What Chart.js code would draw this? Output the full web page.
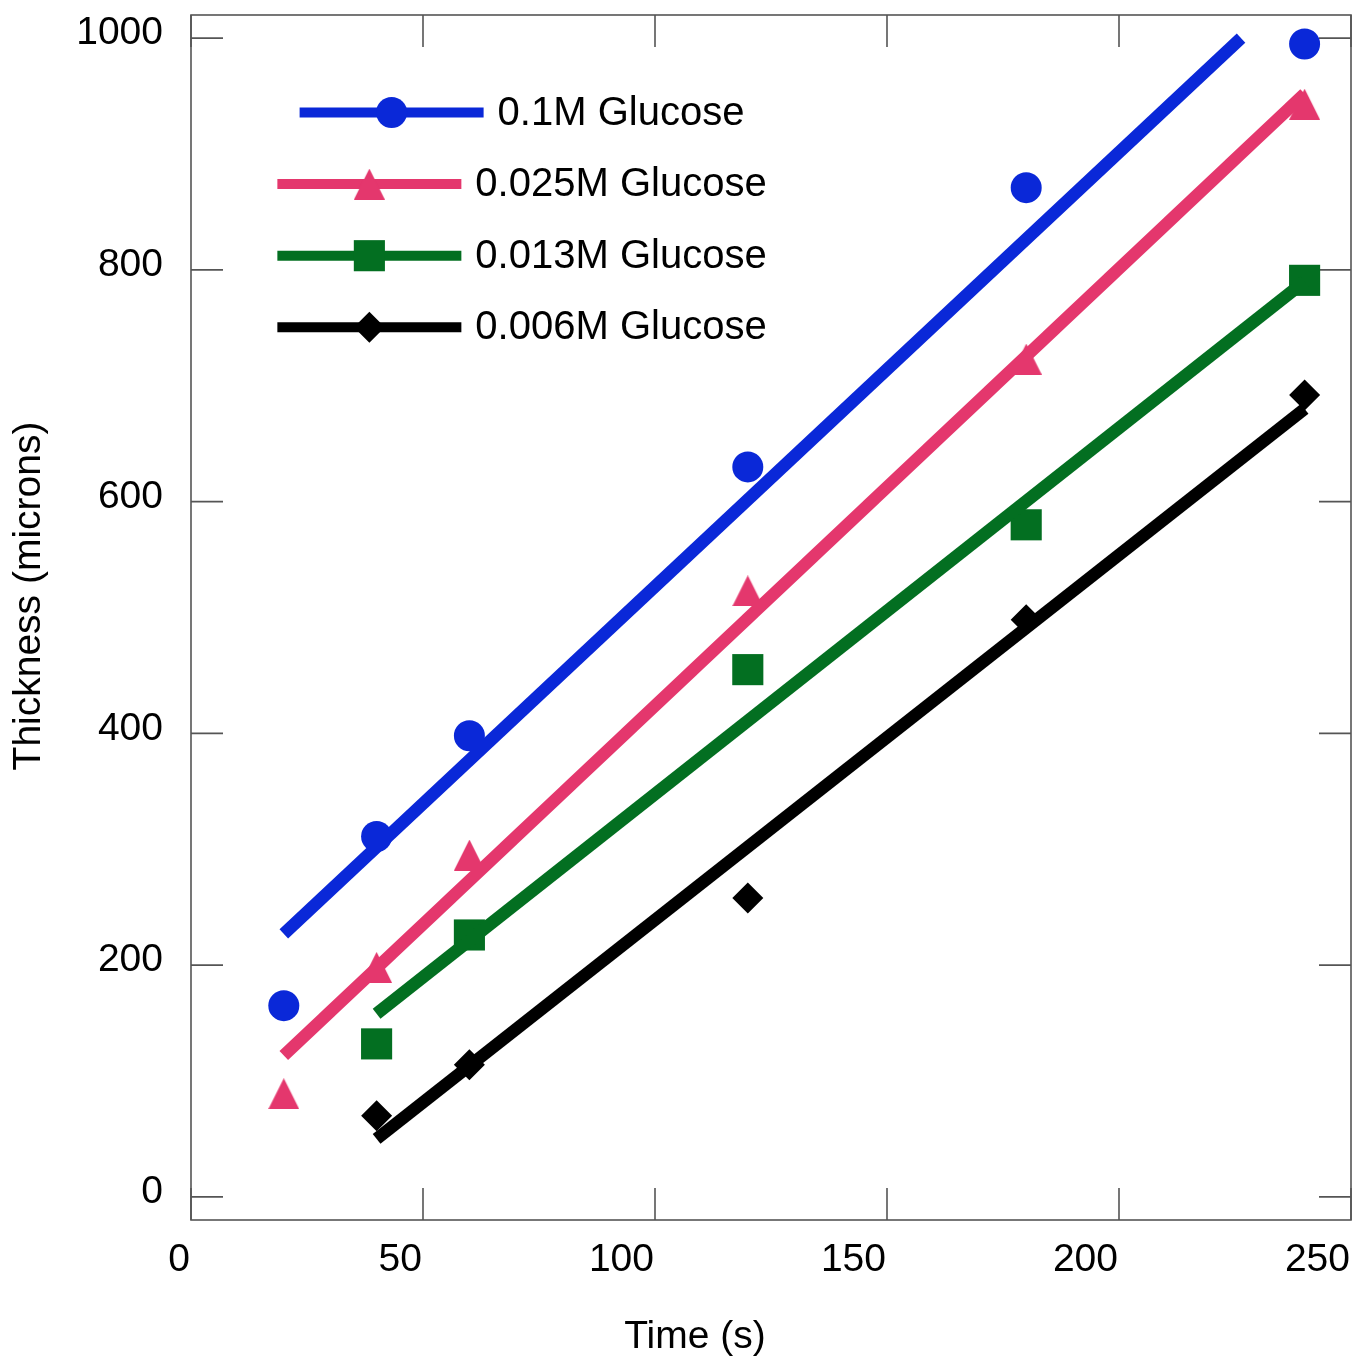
<!DOCTYPE html>
<html>
<head>
<meta charset="utf-8">
<title>Thickness vs time</title>
<script src="https://cdn.jsdelivr.net/npm/chart.js@4.4.1/dist/chart.umd.min.js"></script>
<style>
  html, body { margin: 0; padding: 0; background: #fff; }
</style>
</head>
<body>
<canvas id="lineChart" width="1354" height="1361"></canvas>
<script>
// measured points
const times = [20, 40, 60, 120, 180, 240];
const timesLate = [40, 60, 120, 180, 240];

const glucose01 = [165, 311, 398, 630, 871, 995];
const glucose025 = [89, 198, 295, 523, 723, 943];
const glucose013 = [132, 226, 455, 580, 791];
const glucose006 = [70, 114, 258, 498, 692];

// fitted lines (two ends each)
const fit01X = [20, 226.3];
const fit01Y = [227, 1000];
const fit025X = [20, 240];
const fit025Y = [122, 952];
const fit013X = [40, 240];
const fit013Y = [158, 790];
const fit006X = [40, 240];
const fit006Y = [50, 680];

const seriesNames = ['0.1M Glucose', '0.025M Glucose', '0.013M Glucose', '0.006M Glucose'];
const xTicks = [0, 50, 100, 150, 200, 250];
const yTicks = [0, 200, 400, 600, 800, 1000];

const BLUE = '#0a28d8';
const PINK = '#e4376d';
const GREEN = '#036f21';
const BLACK = '#000000';
const FONT = '"Liberation Sans", Arial, sans-serif';

function pts(xs, ys) {
  return xs.map((x, i) => ({ x: x, y: ys[i] }));
}

// triangle drawn centred on its box, like the original markers
function triangleImage(color) {
  const c = document.createElement('canvas');
  c.width = 31;
  c.height = 31;
  const g = c.getContext('2d');
  g.fillStyle = color;
  g.beginPath();
  g.moveTo(15.5, 0);
  g.lineTo(31, 31);
  g.lineTo(0, 31);
  g.closePath();
  g.fill();
  return c;
}

function fitLine(xs, ys, color) {
  return {
    data: pts(xs, ys),
    showLine: true,
    borderColor: color,
    borderWidth: 12.5,
    borderCapStyle: 'butt',
    pointRadius: 0,
    pointHoverRadius: 0,
    fill: false
  };
}

function markers(xs, ys, color, style, radius) {
  return {
    data: pts(xs, ys),
    showLine: false,
    pointStyle: style,
    pointRadius: radius,
    pointHoverRadius: radius,
    pointBackgroundColor: color,
    pointBorderWidth: 0,
    pointHoverBorderWidth: 0
  };
}

const triPink = triangleImage(PINK);

const markerSets = [
  markers(times, glucose01, BLUE, 'circle', 15.5),
  markers(times, glucose025, PINK, triPink, 15.5),
  markers(timesLate, glucose013, GREEN, 'rect', 22),
  markers(timesLate, glucose006, BLACK, 'rectRot', 15.5)
];
const colors = [BLUE, PINK, GREEN, BLACK];

// frame with inward ticks on all four sides
const framePlugin = {
  id: 'frame',
  beforeDatasetsDraw(chart) {
    const { ctx, chartArea: a, scales } = chart;
    const len = 32;
    ctx.save();
    ctx.strokeStyle = '#555555';
    ctx.lineWidth = 1.6;
    ctx.strokeRect(a.left, a.top, a.right - a.left, a.bottom - a.top);
    ctx.beginPath();
    xTicks.forEach((v) => {
      const px = scales.x.getPixelForValue(v);
      ctx.moveTo(px, a.bottom);
      ctx.lineTo(px, a.bottom - len);
      ctx.moveTo(px, a.top);
      ctx.lineTo(px, a.top + len);
    });
    yTicks.forEach((v) => {
      const py = scales.y.getPixelForValue(v);
      ctx.moveTo(a.left, py);
      ctx.lineTo(a.left + len, py);
      ctx.moveTo(a.right, py);
      ctx.lineTo(a.right - len, py);
    });
    ctx.stroke();
    ctx.restore();
  }
};

// legend inside the plot: line with marker in the middle
const insideLegend = {
  id: 'insideLegend',
  afterDatasetsDraw(chart) {
    const { ctx, chartArea: a } = chart;
    const lineLen = 184;
    const gap = 14;
    const cx = a.left + 331;
    ctx.save();
    ctx.font = '40px ' + FONT;
    ctx.textBaseline = 'middle';
    ctx.textAlign = 'left';
    seriesNames.forEach((name, i) => {
      const tw = ctx.measureText(name).width;
      const x0 = cx - (lineLen + gap + tw) / 2;
      const yy = a.top + 97.5 + i * 71.6;
      ctx.strokeStyle = colors[i];
      ctx.lineWidth = 10;
      ctx.lineCap = 'butt';
      ctx.beginPath();
      ctx.moveTo(x0, yy);
      ctx.lineTo(x0 + lineLen, yy);
      ctx.stroke();
      const m = markerSets[i];
      ctx.fillStyle = colors[i];
      Chart.helpers.drawPoint(ctx, {
        pointStyle: m.pointStyle,
        radius: m.pointRadius,
        rotation: 0,
        borderWidth: 0
      }, x0 + lineLen / 2, yy);
      ctx.fillStyle = '#000';
      ctx.fillText(name, x0 + lineLen + gap, yy + 1);
    });
    ctx.restore();
  }
};

// axis titles
const axisTitles = {
  id: 'axisTitles',
  afterDraw(chart) {
    const { ctx } = chart;
    ctx.save();
    ctx.font = '39px ' + FONT;
    ctx.fillStyle = '#000';
    ctx.textAlign = 'center';
    ctx.textBaseline = 'middle';
    ctx.fillText('Time (s)', 695, 1337);
    ctx.translate(29.5, 596);
    ctx.rotate(-Math.PI / 2);
    ctx.fillText('Thickness (microns)', 0, 0);
    ctx.restore();
  }
};

const tickFont = { family: FONT, size: 39 };

const ctx = document.getElementById('lineChart');
const chart = new Chart(ctx, {
  type: 'scatter',
  data: {
    datasets: [
      fitLine(fit01X, fit01Y, BLUE),
      fitLine(fit025X, fit025Y, PINK),
      fitLine(fit013X, fit013Y, GREEN),
      fitLine(fit006X, fit006Y, BLACK)
    ].concat(markerSets)
  },
  options: {
    responsive: false,
    animation: false,
    events: [],
    layout: { autoPadding: false, padding: { top: 15, right: 3, bottom: 0, left: 0 } },
    plugins: {
      legend: { display: false },
      tooltip: { enabled: false }
    },
    scales: {
      x: {
        type: 'linear',
        position: 'bottom',
        min: 0,
        max: 250,
        afterBuildTicks(s) { s.ticks = xTicks.map((v) => ({ value: v })); },
        afterFit(s) { s.height = 141; s.paddingLeft = 0; s.paddingRight = 0; },
        grid: { display: false, drawTicks: false },
        border: { display: false },
        ticks: {
          align: 'end',
          padding: 17,
          labelOffset: -1,
          maxRotation: 0,
          autoSkip: false,
          color: '#000',
          font: tickFont,
          callback: (v) => String(v)
        }
      },
      y: {
        type: 'linear',
        min: -20,
        max: 1020,
        afterBuildTicks(s) { s.ticks = yTicks.map((v) => ({ value: v })); },
        afterFit(s) { s.width = 191; s.paddingTop = 0; s.paddingBottom = 0; },
        grid: { display: false, drawTicks: false },
        border: { display: false },
        ticks: {
          padding: 28,
          labelOffset: -4.5,
          autoSkip: false,
          color: '#000',
          font: tickFont,
          callback: (v) => String(v)
        }
      }
    }
  },
  plugins: [framePlugin, insideLegend, axisTitles]
});
</script>
</body>
</html>
